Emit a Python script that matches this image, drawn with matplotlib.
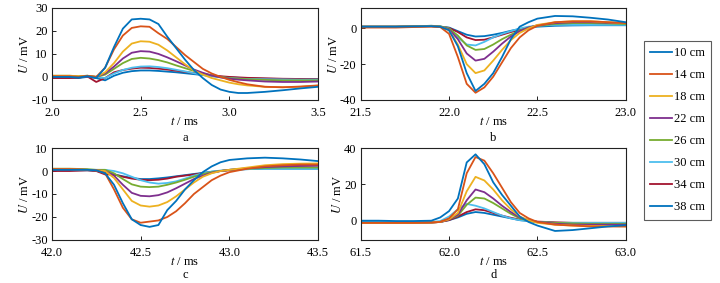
import numpy as np
import matplotlib
matplotlib.use("Agg")
import matplotlib.pyplot as plt

plt.rcParams['font.family'] = ['Liberation Serif', 'DejaVu Serif']
plt.rcParams['mathtext.fontset'] = 'stix'
plt.rcParams['axes.unicode_minus'] = False
plt.rcParams['font.size'] = 9

labels = ['10 cm', '14 cm', '18 cm', '22 cm', '26 cm', '30 cm', '34 cm', '38 cm']
colors = ['#0072BD', '#D95319', '#EDB120', '#7E2F8E', '#77AC30', '#4DBEEE', '#A2142F', '#0072BD']

# panel a
t_a = [2.0, 2.1, 2.15, 2.2, 2.25, 2.3, 2.35, 2.4, 2.45, 2.5, 2.55, 2.6, 2.65, 2.7, 2.75,
       2.8, 2.85, 2.9, 2.95, 3.0, 3.05, 3.1, 3.2, 3.3, 3.4, 3.5]
a10 = [0, 0, -0.3, 0.3, -0.5, 4, 13, 21, 25, 25.3, 25, 23, 17.5, 12.5, 7.5, 3, -0.5, -3.5, -5.5, -6.5, -7, -7, -6.5, -5.8, -5, -4.3]
a14 = [0.3, 0.3, 0, 0.5, 0, 4, 12, 18, 21.3, 22, 21.8, 19, 16.5, 13, 9.5, 6.5, 3.5, 1.5, 0, -1.3, -2.3, -3.2, -4.3, -4.5, -4.2, -3.7]
a18 = [0.5, 0.5, 0.3, 0.5, 0, 2, 6, 11, 14.5, 15.5, 15.3, 14, 11.5, 8.5, 5.5, 2.8, 1, -0.5, -1.5, -2.5, -3.2, -3.7, -4.3, -4.5, -4.3, -3.8]
a22 = [0.3, 0.3, 0, 0.3, 0, 1.5, 4.5, 8, 10.5, 11.2, 11, 10, 8.5, 6.8, 5, 3.2, 1.8, 0.6, -0.2, -0.8, -1.2, -1.5, -2, -2.2, -2.2, -2]
a26 = [0.5, 0.5, 0.3, 0.5, 0, 1, 3.5, 6, 7.8, 8.3, 8, 7.3, 6.3, 5, 3.8, 2.6, 1.5, 0.7, 0, -0.5, -0.8, -1, -1.3, -1.5, -1.5, -1.5]
a30 = [0.3, 0.3, 0, 0.3, 0, -0.5, 1.5, 3, 4, 4.5, 4.6, 4.3, 3.8, 3.1, 2.4, 1.6, 0.9, 0.3, -0.2, -0.5, -0.7, -0.9, -1, -1.1, -1.2, -1.2]
a34 = [-0.5, -0.5, -0.3, 0.2, -2.2, -0.5, 2, 3, 3.6, 4, 3.9, 3.6, 3.2, 2.7, 2.2, 1.7, 1.2, 0.7, 0.3, 0, -0.2, -0.4, -0.6, -0.8, -0.9, -1]
a38 = [-0.3, -0.3, -0.5, 0, -0.5, -1.5, 0.5, 1.8, 2.5, 2.8, 2.8, 2.6, 2.3, 2, 1.6, 1.2, 0.8, 0.4, 0.1, -0.2, -0.4, -0.6, -0.8, -0.9, -1, -1]

# panel b
t_b = [21.5, 21.6, 21.7, 21.8, 21.9, 21.95, 22.0, 22.05, 22.1, 22.15, 22.2, 22.25, 22.3, 22.35,
       22.4, 22.45, 22.5, 22.6, 22.7, 22.8, 22.9, 23.0]
b10 = [1, 1, 1, 1.2, 1.3, 1, -1, -10, -25, -35, -31, -25, -16, -6, 1, 3.5, 5.5, 7, 6.8, 6, 5, 3.5]
b14 = [0.5, 0.5, 0.5, 0.8, 1, 0.8, -3, -16, -31, -36, -33, -27, -19, -11, -5, -1, 1.5, 3.5, 4, 4, 3.5, 3]
b18 = [1, 1, 1, 1.2, 1.3, 1, -1, -9, -20, -25, -23.5, -18, -12, -6.5, -2.5, 0, 2, 3.5, 4, 4, 3.5, 3]
b22 = [1, 1, 1, 1.2, 1.3, 1, -0.5, -6, -14, -18, -17, -13, -8.5, -4.5, -1.5, 0.5, 1.8, 3, 3.5, 3.5, 3.2, 3]
b26 = [1, 1, 1, 1.2, 1.5, 1.2, 0, -4, -9.5, -12, -11.5, -9, -6, -3.5, -1.2, 0.5, 1.5, 2.5, 3, 3, 2.8, 2.5]
b30 = [1, 1, 1, 1.2, 1.5, 1.2, 0, -5, -9, -9.5, -7.5, -5, -3, -1.5, 0, 1, 1.5, 2, 2, 2, 2, 2]
b34 = [1, 1, 1, 1.2, 1.3, 1, 0.3, -2, -5, -6.5, -6.3, -5, -3.5, -2, -0.8, 0.5, 1.5, 2.5, 3, 3, 3, 3]
b38 = [1, 1, 1, 1.2, 1.3, 1, 0.5, -1.5, -3.5, -4.5, -4.3, -3.5, -2.5, -1.3, -0.3, 0.5, 1, 1.5, 1.7, 1.8, 1.8, 1.8]

# panel c
t_c = [42.0, 42.1, 42.2, 42.25, 42.3, 42.35, 42.4, 42.45, 42.5, 42.55, 42.6, 42.65, 42.7, 42.75,
       42.8, 42.85, 42.9, 42.95, 43.0, 43.1, 43.2, 43.3, 43.4, 43.5]
c10 = [0.5, 0.5, 0.5, 0.3, -1, -6, -14, -21, -23.5, -24.3, -23.5, -17, -13, -8, -4, -0.5, 2, 3.8, 4.8, 5.5, 5.8, 5.5, 5, 4.3]
c14 = [0.8, 0.8, 0.5, 0.3, -1, -8, -16, -21, -22.5, -22, -21.5, -20, -17.5, -14, -10, -7, -4, -2, -0.5, 1, 2, 2.5, 2.8, 2.8]
c18 = [0.8, 0.8, 0.5, 0.3, 0, -3, -8, -13, -15, -15.5, -15, -13.5, -11, -8, -5, -2.5, -1, 0, 0.5, 1.5, 2.5, 3, 3.2, 3.3]
c22 = [0.8, 0.8, 0.5, 0.3, 0, -2, -6, -9.5, -10.8, -11, -10.5, -9.3, -7.5, -5.5, -3.5, -2, -0.8, 0, 0.5, 1.2, 1.7, 2, 2.2, 2.3]
c26 = [1, 1, 0.8, 0.5, 0.5, -1, -3.5, -5.8, -6.8, -7, -6.8, -6, -5, -3.8, -2.5, -1.3, -0.5, 0, 0.5, 1, 1.3, 1.5, 1.5, 1.5]
c30 = [0.8, 0.8, 0.5, 0.5, 0.5, 0, -1, -2.5, -4, -5, -5.5, -5.2, -4.5, -3.3, -2, -1, -0.3, 0.2, 0.5, 0.8, 1, 1, 1, 1]
c34 = [0, 0, 0.3, 0, -1.5, -1.5, -2.5, -3.3, -3.8, -4, -3.8, -3.3, -2.5, -2, -1.5, -1, -0.5, 0, 0.3, 1, 1.5, 2, 2.3, 2.5]
c38 = [0.3, 0.3, 0.3, 0, -0.5, -1.5, -2.3, -3, -3.5, -3.5, -3.2, -2.8, -2.3, -1.8, -1.3, -0.8, -0.3, 0, 0.5, 0.8, 1, 1, 1, 1]

# panel d
t_d = [61.5, 61.6, 61.7, 61.8, 61.9, 61.95, 62.0, 62.05, 62.1, 62.15, 62.2, 62.25, 62.3, 62.35,
       62.4, 62.45, 62.5, 62.6, 62.7, 62.8, 62.9, 63.0]
d10 = [-0.3, -0.3, -0.5, -0.5, -0.3, 1.5, 5, 12, 32, 36.5, 31, 21, 14, 8, 2, -1, -3, -6, -5.5, -4.5, -3.5, -2.8]
d14 = [-1.5, -1.5, -1.5, -1.5, -1.3, -1, 1, 6, 26, 35, 33, 26, 18, 10, 4, 1, -1, -2.5, -3, -3.5, -3.5, -3.5]
d18 = [-1.5, -1.5, -1.5, -1.5, -1.3, -1, 0.5, 4, 16, 24, 22, 17, 11, 6, 2, 0, -1.5, -2.5, -3, -3.2, -3.3, -3.5]
d22 = [-1.5, -1.5, -1.5, -1.5, -1.3, -1, 0.5, 3, 11, 17, 15.5, 12, 8, 4.5, 1.5, 0, -1, -2, -2.5, -2.5, -2.5, -2.5]
d26 = [-1.5, -1.5, -1.5, -1.5, -1.3, -1, 0.5, 2.5, 8.5, 12.5, 12, 9.5, 6.5, 3.5, 1, -0.3, -1, -1.5, -1.8, -2, -2, -2]
d30 = [-1, -1, -1, -1, -1, -0.5, 2, 6, 9, 8, 6.5, 4.5, 2.5, 1, 0, -0.5, -1, -1.5, -1.5, -1.5, -1.5, -1.5]
d34 = [-1.5, -1.5, -1.5, -1.5, -1.3, -1, 0, 2, 4.5, 6, 5.5, 4, 2.5, 1.3, 0.3, -0.3, -0.8, -1.2, -1.5, -1.5, -1.5, -1.5]
d38 = [-1, -1, -1, -1, -1, -1, 0, 1.5, 3.5, 4.5, 4, 3, 2, 1, 0, -0.5, -1, -1.5, -1.5, -1.5, -1.5, -1.5]

panels = [
    ('a', t_a, [a10, a14, a18, a22, a26, a30, a34, a38], (2.0, 3.5), (-10, 30), [-10, 0, 10, 20, 30]),
    ('b', t_b, [b10, b14, b18, b22, b26, b30, b34, b38], (21.5, 23.0), (-40, 11.5), [-40, -20, 0]),
    ('c', t_c, [c10, c14, c18, c22, c26, c30, c34, c38], (42.0, 43.5), (-30, 10), [-30, -20, -10, 0, 10]),
    ('d', t_d, [d10, d14, d18, d22, d26, d30, d34, d38], (61.5, 63.0), (-11, 40), [0, 20, 40]),
]
positions = [
    [0.072, 0.647, 0.370, 0.325],
    [0.501, 0.647, 0.368, 0.325],
    [0.072, 0.152, 0.370, 0.325],
    [0.501, 0.152, 0.368, 0.325],
]
# y of the a/b/c/d captions, in figure fraction
caption_y = [1 - 138 / 283, 1 - 138 / 283, 1 - 275 / 283, 1 - 275 / 283]

fig = plt.figure(figsize=(7.2, 2.83), dpi=100)

for (name, t, series, xl, yl, yt), pos, cy in zip(panels, positions, caption_y):
    ax = fig.add_axes(pos)
    # draw in reverse so the 10 cm curve is on top
    for i in range(len(series) - 1, -1, -1):
        ax.plot(t, series[i], color=colors[i], lw=1.3, label=labels[i])
    ax.set_xlim(*xl)
    ax.set_ylim(*yl)
    ax.set_yticks(yt)
    ax.set_xticks(np.arange(xl[0], xl[1] + 0.01, 0.5))
    ax.xaxis.set_major_formatter(matplotlib.ticker.FormatStrFormatter('%.1f'))
    ax.tick_params(direction='in', length=3, width=0.6, labelsize=9)
    ax.tick_params(axis='x', pad=5)
    ax.tick_params(axis='y', pad=3)
    for s in ax.spines.values():
        s.set_linewidth(0.8)
        s.set_color('#222222')
    ax.set_xlabel(r'$t$ / ms', fontsize=9, labelpad=-2)
    ax.set_ylabel(r'$U$ / mV', fontsize=9, labelpad=0)
    fig.text(pos[0] + pos[2] / 2, cy, name, ha='center', va='center', fontsize=9)

handles, labs = ax.get_legend_handles_labels()
leg = fig.legend(handles[::-1], labs[::-1], loc='upper left',
                 bbox_to_anchor=(644 / 720, 1 - 41 / 283), fontsize=9,
                 frameon=True, fancybox=False, edgecolor='#333333',
                 labelspacing=0.8, handlelength=1.7, handletextpad=0.2,
                 borderpad=0.5, borderaxespad=0)
leg.get_frame().set_linewidth(0.8)

fig.savefig('out.png', dpi=100)
